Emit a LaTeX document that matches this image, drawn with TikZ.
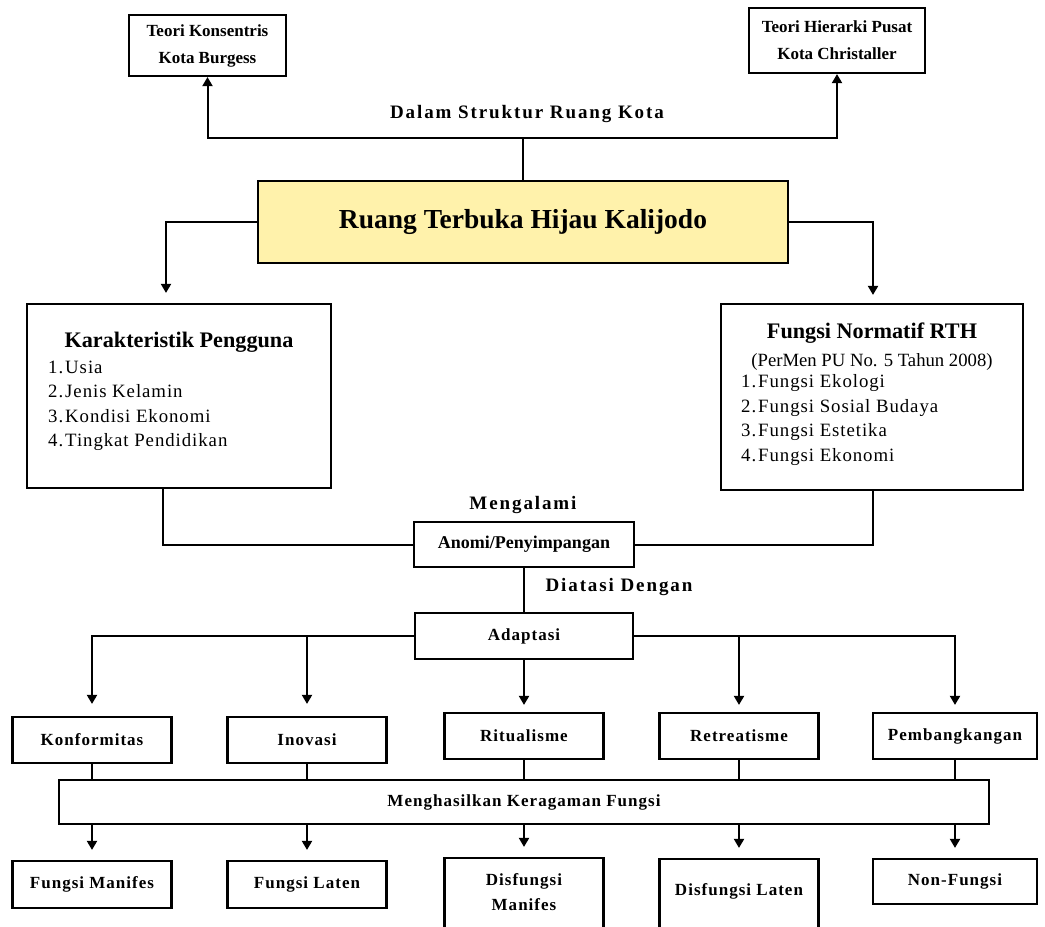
\documentclass[tikz,border=0pt]{standalone}
\usepackage{fontspec}
\setmainfont{Liberation Serif}
\newfontfamily\spacedfont[LetterSpace=6]{Liberation Serif}
\newfontfamily\widefont[LetterSpace=10]{Liberation Serif}
\newfontfamily\listfont[LetterSpace=5]{Liberation Serif}
\usetikzlibrary{arrows.meta}
\definecolor{rthyellow}{HTML}{FFF2AB}

\begin{document}
\begin{tikzpicture}[x=1pt,y=-1pt,
  box/.style={draw, line width=2.2pt, inner sep=0pt, align=center},
  con/.style={line width=2pt},
  arr/.style={con, -{Triangle[width=10pt,length=9pt]}},
  lab/.style={font={\spacedfont\bfseries\fontsize{17}{25}\selectfont}},
  rowbox/.style={box, lab, minimum width=159, minimum height=46},
  connlabel/.style={font={\widefont\bfseries\fontsize{19}{22}\selectfont}},
  heading/.style={font={\bfseries\fontsize{22.2}{26}\selectfont}},
  itemlist/.style={anchor=west, align=left, inner sep=0pt,
    font={\listfont\fontsize{18.8}{24.5}\selectfont}}
]
\useasboundingbox (0,0) rectangle (1045,927);
\clip (0,0) rectangle (1045,927);

% theories on top
\node[box, minimum width=157, minimum height=61,
      font={\bfseries\fontsize{17}{27}\selectfont}] (tl) at (207.5,45.5)
      {Teori Konsentris\\Kota Burgess};
\node[box, minimum width=176, minimum height=65,
      font={\bfseries\fontsize{17}{27}\selectfont}] (tr) at (837,40.5)
      {Teori Hierarki Pusat\\Kota Christaller};
\node[connlabel] (dalam) at (527,114) {Dalam Struktur Ruang Kota};

% central subject
\node[box, fill=rthyellow, minimum width=530, minimum height=82,
      font={\bfseries\fontsize{27.5}{32}\selectfont}] (rth) at (523,222)
      {Ruang Terbuka Hijau Kalijodo};

% user characteristics
\node[box, minimum width=304, minimum height=184] (karak) at (179,396) {};
\node[heading] (karakT) at (179,342) {Karakteristik Pengguna};
\node[itemlist] (karakL) at (48,406)
  {1.\kern2pt Usia\\2.\kern2pt Jenis Kelamin\\3.\kern2pt Kondisi Ekonomi\\4.\kern2pt Tingkat Pendidikan};

% normative functions
\node[box, minimum width=302, minimum height=186] (fn) at (872,397) {};
\node[heading] (fnT) at (872,333) {Fungsi Normatif RTH};
\node[font={\fontsize{18.7}{22}\selectfont}] (fnS) at (872,362) {(PerMen PU No. 5 Tahun 2008)};
\node[itemlist] (fnL) at (741,420)
  {1.\kern2pt Fungsi Ekologi\\2.\kern2pt Fungsi Sosial Budaya\\3.\kern2pt Fungsi Estetika\\4.\kern2pt Fungsi Ekonomi};

% anomie and adaptation
\node[connlabel] (meng) at (523,505) {Mengalami};
\node[box, minimum width=220, minimum height=45,
      font={\bfseries\fontsize{18}{22}\selectfont}] (anomi) at (524,544.5) {Anomi/Penyimpangan};
\node[connlabel] (diat) at (619,587) {Diatasi Dengan};
\node[box, lab, minimum width=218, minimum height=46] (adapt) at (524,636) {Adaptasi};

% modes of adaptation
\node[rowbox] (konf) at (92,740) {Konformitas};
\node[rowbox] (inov) at (307,740) {Inovasi};
\node[rowbox] (ritual) at (524,736) {Ritualisme};
\node[rowbox] (retreat) at (739,736) {Retreatisme};
\node[rowbox, minimum width=164] (pemb) at (955,736) {Pembangkangan};

\node[box, lab, minimum width=930, minimum height=44] (mh) at (524,802) {Menghasilkan Keragaman Fungsi};

% resulting functions
\node[rowbox, minimum height=47] (fm) at (92,884.5) {Fungsi Manifes};
\node[rowbox, minimum height=47] (fl) at (307,884.5) {Fungsi Laten};
\node[rowbox, minimum height=100] (dm) at (524,908) {};
\node[lab, align=center] (dmT) at (524,892.5) {Disfungsi\\Manifes};
\node[rowbox, minimum height=100] (dl) at (739,909) {};
\node[lab] (dlT) at (739,891) {Disfungsi Laten};
\node[rowbox, minimum width=164, minimum height=45] (nf) at (955,881.5) {Non-Fungsi};

% connectors
\coordinate (j) at (523,138);
\draw[con] (rth.north) -- (j);
\draw[arr] (j) -| (tl.south);
\draw[arr] (j) -| (tr.south);

\draw[arr, shorten >=10pt] (rth.west) -| ([xshift=-13pt]karak.north);
\draw[arr, shorten >=8pt] (rth.east) -| ([xshift=1pt]fn.north);

\draw[con] ([xshift=-16pt]karak.south) |- (anomi.west);
\draw[con] ([xshift=1pt]fn.south) |- (anomi.east);
\draw[con] (anomi.south) -- (adapt.north);

\draw[arr, shorten >=12pt] (adapt.west) -| (konf.north);
\draw[arr, shorten >=12pt] (adapt.west) -| (inov.north);
\draw[arr, shorten >=7pt] (adapt.south) -- (ritual.north);
\draw[arr, shorten >=7pt] (adapt.east) -| (retreat.north);
\draw[arr, shorten >=7pt] (adapt.east) -| (pemb.north);

\foreach \b in {konf,inov,ritual,retreat,pemb}
  \draw[con] (\b.south) -- (\b.south |- mh.north);

\foreach \b in {fm,fl,dm,dl,nf}
  \draw[arr, shorten >=10pt] (mh.south -| \b.north) -- (\b.north);
\end{tikzpicture}
\end{document}
